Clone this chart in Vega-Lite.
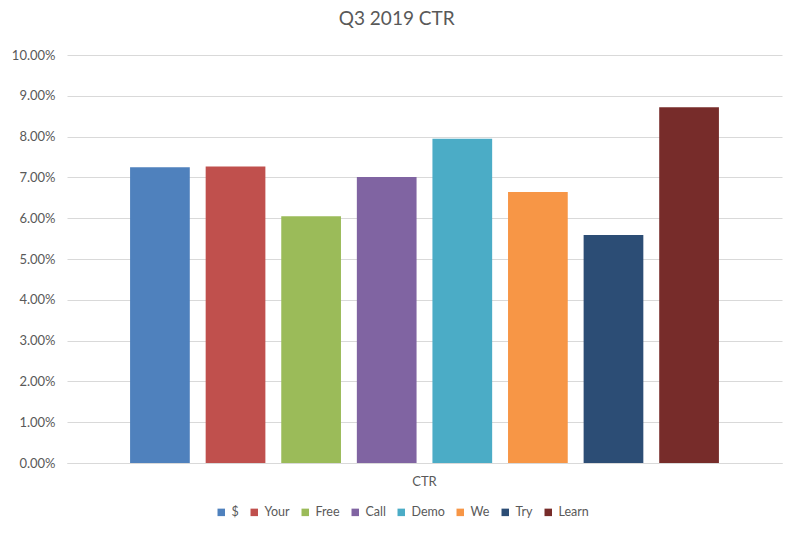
{
  "$schema": "https://vega.github.io/schema/vega-lite/v6.json",
  "autosize": {"type": "none"},
  "width": 715,
  "height": 408,
  "padding": {"left": 67, "top": 55, "right": 18, "bottom": 70},
  "background": "white",
  "title": {"text": "Q3 2019 CTR", "anchor": "middle", "frame": "bounds", "fontSize": 19, "font": "Lato", "fontWeight": "normal", "color": "#595959", "offset": 20},
  "data": {"values": [
    {"category": "CTR", "series": "$", "ctr": 0.0725},
    {"category": "CTR", "series": "Your", "ctr": 0.0727},
    {"category": "CTR", "series": "Free", "ctr": 0.0605},
    {"category": "CTR", "series": "Call", "ctr": 0.0701},
    {"category": "CTR", "series": "Demo", "ctr": 0.0795},
    {"category": "CTR", "series": "We", "ctr": 0.0664},
    {"category": "CTR", "series": "Try", "ctr": 0.0559},
    {"category": "CTR", "series": "Learn", "ctr": 0.0872}
  ]},
  "mark": {"type": "bar"},
  "encoding": {
    "x": {"field": "category", "type": "nominal", "title": null,
      "scale": {"paddingInner": 0, "paddingOuter": 0.09},
      "axis": {"labelAngle": 0, "ticks": false, "domainColor": "#D9D9D9", "labelColor": "#595959", "labelFont": "Lato", "labelFontSize": 13, "labelPadding": 12}},
    "xOffset": {"field": "series", "type": "nominal", "sort": ["$", "Your", "Free", "Call", "Demo", "We", "Try", "Learn"],
      "scale": {"paddingInner": 0.21, "paddingOuter": 0.113}},
    "y": {"field": "ctr", "type": "quantitative", "title": null,
      "scale": {"domain": [0, 0.1]},
      "axis": {"format": ".2%", "values": [0, 0.01, 0.02, 0.03, 0.04, 0.05, 0.06, 0.07, 0.08, 0.09, 0.1], "labelOverlap": false, "domain": false, "ticks": false, "gridColor": "#D9D9D9", "labelColor": "#595959", "labelFont": "Lato", "labelFontSize": 13, "labelPadding": 12}},
    "color": {"field": "series", "type": "nominal",
      "scale": {"domain": ["$", "Your", "Free", "Call", "Demo", "We", "Try", "Learn"],
        "range": ["#4F81BD", "#C0504D", "#9BBB59", "#8064A2", "#4BACC6", "#F79646", "#2C4D75", "#772C2A"]},
      "legend": {"title": null, "orient": "none", "direction": "horizontal", "legendX": 148, "legendY": 451,
        "symbolType": "square", "symbolSize": 56, "symbolStrokeWidth": 0, "labelFont": "Lato", "labelFontSize": 12.5, "labelColor": "#595959", "columnPadding": 9, "labelOffset": 4}}
  },
  "config": {"view": {"stroke": null}}
}
